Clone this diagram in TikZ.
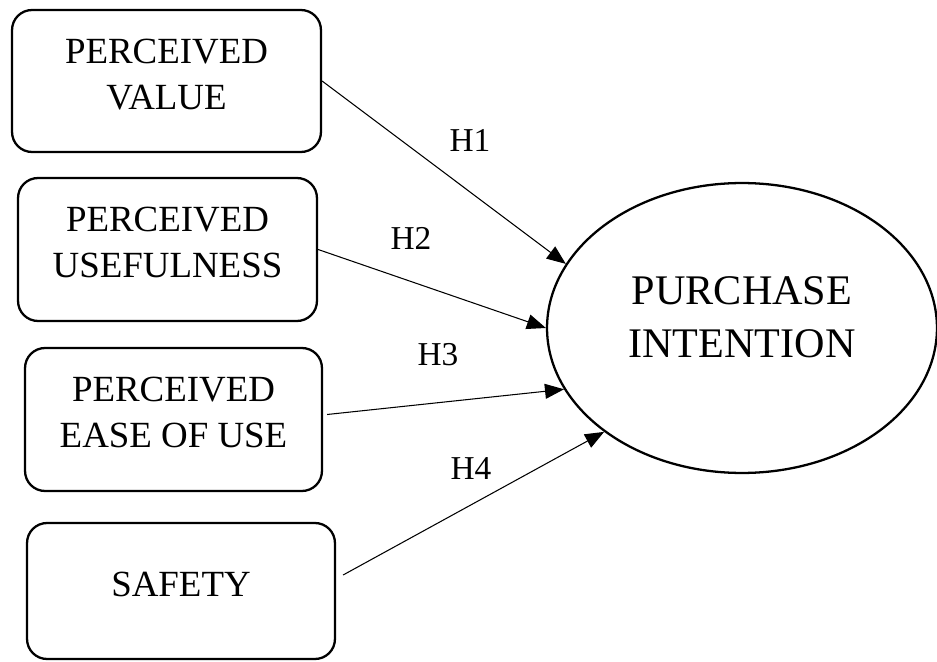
\documentclass[tikz,border=0pt]{standalone}
\usepackage{fontspec}
\setmainfont{Liberation Serif}
\usetikzlibrary{arrows.meta,shapes.geometric}
\begin{document}
\begin{tikzpicture}[x=0.02cm, y=-0.02cm,
  factor/.style={draw, line width=1.3pt, rounded corners=0.4cm, align=center, inner sep=0pt, text depth=0.28cm, font=\fontsize{21}{26}\selectfont},
  hyp/.style={font=\fontsize{19}{23}\selectfont},
  link/.style={line width=0.6pt, -{Triangle[length=0.38cm, width=0.3cm]}}]
  \useasboundingbox (0,0) rectangle (937,662);
  \node[factor, minimum width=6.18cm, minimum height=2.84cm] (value) at (166.5,81) {PERCEIVED\\VALUE};
  \node[factor, minimum width=5.98cm, minimum height=2.86cm] (useful) at (167.5,249.5) {PERCEIVED\\USEFULNESS};
  \node[factor, minimum width=5.94cm, minimum height=2.86cm] (ease) at (173.5,419.5) {PERCEIVED\\EASE OF USE};
  \node[factor, minimum width=6.16cm, minimum height=2.72cm] (safety) at (181,591) {SAFETY};
  \node[draw, ellipse, line width=1.3pt, minimum width=7.8cm, minimum height=5.8cm, inner sep=0pt, align=center, text depth=0.44cm, font=\fontsize{24}{30}\selectfont] (intent) at (742,328) {PURCHASE\\INTENTION};
  % hypotheses
  \draw[link] (value.east) -- (intent.160);
  \draw[link] (useful.east) -- (intent.180);
  \draw[link] ([shift={(4,-5)}]ease.east) -- (intent.199);
  \draw[link] ([shift={(7,-16)}]safety.east) -- (intent.217);
  \foreach \n/\x/\y in {1/470/140, 2/411/238, 3/438/355, 4/471/469}
    \node[hyp] (h\n) at (\x,\y) {H\n};
\end{tikzpicture}
\end{document}
